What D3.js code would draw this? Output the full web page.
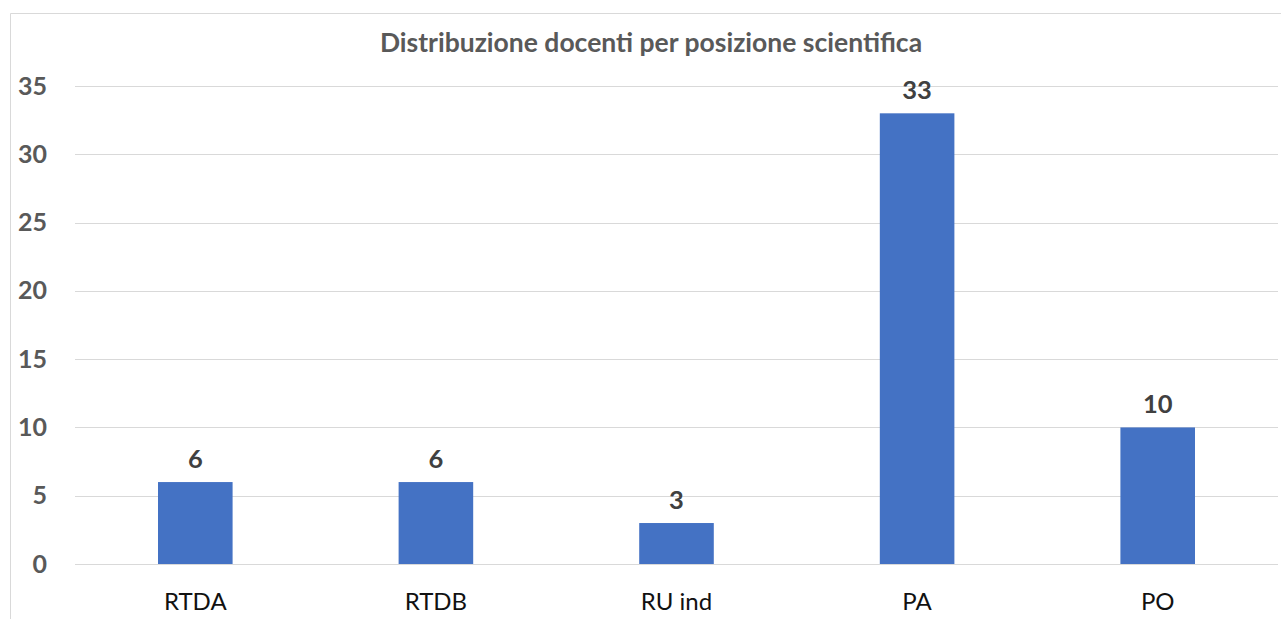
<!DOCTYPE html>
<html>
<head>
<meta charset="utf-8">
<script src="https://cdn.jsdelivr.net/npm/d3@7"></script>
<style>
  body { margin: 0; background: #fff; }
  svg { display: block; font-family: Lato, "Liberation Sans", sans-serif; }
</style>
</head>
<body>
<div id="chart"></div>
<script>
// data
const categories = ['RTDA', 'RTDB', 'RU ind', 'PA', 'PO']
const values = [6, 6, 3, 33, 10]
const yTicks = [0, 5, 10, 15, 20, 25, 30, 35]
const title = 'Distribuzione docenti per posizione scientifica'

const width = 1281,
  height = 619

let svg = d3.select('#chart')
  .append('svg')
  .attr('width', width)
  .attr('height', height)

// chart frame
svg.append('path')
  .attr('d', `M10.5,${height} V13.5 H${width}`)
  .attr('fill', 'none')
  .attr('stroke', '#d9d9d9')
  .attr('stroke-width', 1)

svg.append('text')
  .attr('x', 651)
  .attr('y', 52)
  .attr('text-anchor', 'middle')
  .attr('font-size', 26.5)
  .attr('font-weight', 'bold')
  .attr('fill', '#595959')
  .text(title)

const x = d3.scaleBand()
  .domain(categories)
  .range([75, 1278])
  .paddingInner(0.69)
  .paddingOuter(0.345)

const y = d3.scaleLinear()
  .domain([0, 35])
  .range([564, 86])

// gridlines
svg.append('g')
  .selectAll('line')
  .data(yTicks)
  .enter()
  .append('line')
  .attr('x1', 75)
  .attr('x2', 1278)
  .attr('y1', d => Math.round(y(d)) + 0.5)
  .attr('y2', d => Math.round(y(d)) + 0.5)
  .attr('stroke', '#d9d9d9')
  .attr('stroke-width', 1)

// y axis labels
let axisY = d3.axisLeft(y).tickValues(yTicks).tickSize(0).tickPadding(0)
svg.append('g')
  .attr('transform', 'translate(47,0)')
  .call(axisY)
  .call(g => g.select('.domain').remove())
  .call(g => g.selectAll('text')
    .attr('font-size', 25)
    .attr('font-weight', 'bold')
    .attr('fill', '#595959')
    .attr('font-family', 'Lato, sans-serif'))

// bars
svg.selectAll('rect.bar')
  .data(values)
  .enter()
  .append('rect')
  .attr('class', 'bar')
  .attr('x', (d, i) => x(categories[i]))
  .attr('y', d => y(d))
  .attr('width', x.bandwidth())
  .attr('height', d => y(0) - y(d))
  .attr('fill', '#4472c4')

// value labels
svg.selectAll('text.val')
  .data(values)
  .enter()
  .append('text')
  .attr('class', 'val')
  .attr('x', (d, i) => x(categories[i]) + x.bandwidth() / 2)
  .attr('y', d => y(d) - 14)
  .attr('text-anchor', 'middle')
  .attr('font-size', 25.5)
  .attr('font-weight', 'bold')
  .attr('fill', '#404040')
  .text(d => d)

// x axis labels
let axisX = d3.axisBottom(x).tickSize(0).tickPadding(0)
svg.append('g')
  .attr('transform', 'translate(0,593)')
  .call(axisX)
  .call(g => g.select('.domain').remove())
  .call(g => g.selectAll('text')
    .attr('font-size', 24)
    .attr('fill', '#111')
    .attr('font-family', 'Lato, sans-serif'))
</script>
</body>
</html>
